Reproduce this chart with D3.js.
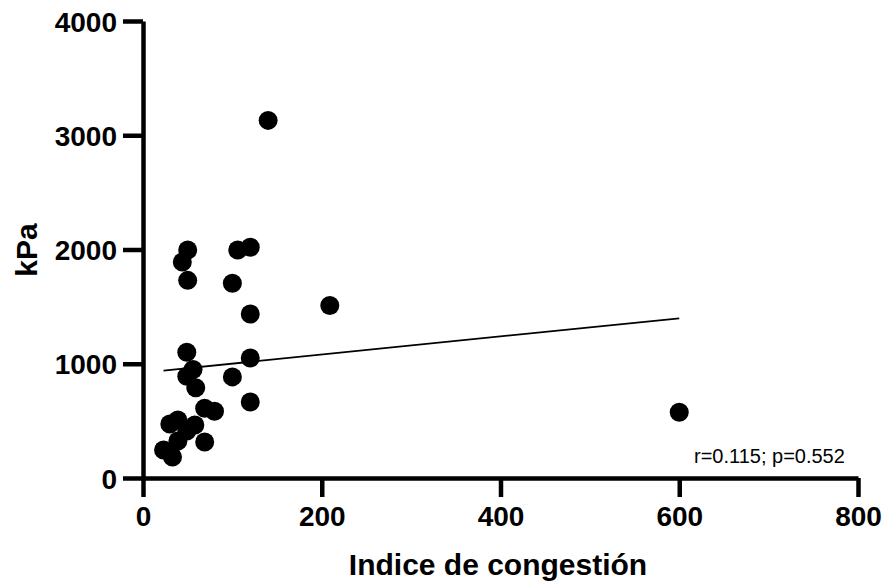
<!DOCTYPE html>
<html>
<head>
<meta charset="utf-8">
<script src="https://cdn.jsdelivr.net/npm/d3@7"></script>
<style>
  body { margin: 0; background: #fff; }
  svg { font-family: "Liberation Sans", Arial, sans-serif; }
</style>
</head>
<body>
<div id="chart"></div>
<script>
(function () {
  "use strict";

  // data
  const congestion = [140, 120, 106, 50, 44, 50, 100, 209, 120, 49, 120, 56, 49, 100, 59,
    120, 69, 80, 600, 30, 39, 58, 49, 39, 69, 23, 33];
  const kpa = [3130, 2020, 1995, 1995, 1890, 1730, 1705, 1510, 1435, 1100, 1050, 950, 890, 885, 790,
    665, 610, 585, 575, 473, 508, 464, 411, 324, 315, 245, 184];
  const fitX = [23, 600];
  const fitY = [940, 1398];
  const xTicks = [0, 200, 400, 600, 800];
  const yTicks = [0, 1000, 2000, 3000, 4000];
  const stats = "r=0.115; p=0.552";

  const width = 886;
  const height = 585;

  const svg = d3
    .select("#chart")
    .append("svg")
    .attr("width", width)
    .attr("height", height);

  const x = d3.scaleLinear().domain([0, 800]).range([143, 858]);
  const y = d3.scaleLinear().domain([0, 4000]).range([478, 21]);

  // y axis
  const yAxis = svg
    .append("g")
    .attr("transform", `translate(${x(0)},0)`)
    .call(
      d3.axisLeft(y).tickValues(yTicks).tickFormat(d3.format("d"))
        .tickSize(20).tickSizeOuter(0).tickPadding(6)
    );

  // x axis
  const xAxis = svg
    .append("g")
    .attr("transform", `translate(0,${y(0)})`)
    .call(
      d3.axisBottom(x).tickValues(xTicks).tickFormat(d3.format("d"))
        .tickSize(19).tickSizeOuter(0).tickPadding(9)
    );

  [yAxis, xAxis].forEach((g) => {
    g.select(".domain").attr("stroke", "#000").attr("stroke-width", 4.5);
    g.selectAll(".tick line").attr("stroke", "#000").attr("stroke-width", 4.5);
    g.selectAll(".tick text")
      .attr("fill", "#000")
      .style("font-size", "28px")
      .style("font-weight", "bold");
  });
  yAxis.selectAll(".tick text").attr("dy", "0.36em");
  xAxis.selectAll(".tick text").attr("dy", "0.71em");

  // regression line
  svg
    .append("line")
    .attr("x1", x(fitX[0]))
    .attr("y1", y(fitY[0]))
    .attr("x2", x(fitX[1]))
    .attr("y2", y(fitY[1]))
    .attr("stroke", "#000")
    .attr("stroke-width", 1.8);

  // points
  svg
    .append("g")
    .selectAll("circle")
    .data(congestion)
    .join("circle")
    .attr("cx", (d) => x(d))
    .attr("cy", (d, i) => y(kpa[i]))
    .attr("r", 9.5)
    .attr("fill", "#000");

  // titles
  svg
    .append("text")
    .attr("x", 498)
    .attr("y", 575)
    .attr("text-anchor", "middle")
    .style("font-size", "30px")
    .style("font-weight", "bold")
    .text("Indice de congestión");

  svg
    .append("text")
    .attr("transform", "translate(37,250) rotate(-90)")
    .attr("text-anchor", "middle")
    .style("font-size", "30px")
    .style("font-weight", "bold")
    .text("kPa");

  svg
    .append("text")
    .attr("x", 694)
    .attr("y", 463)
    .style("font-size", "20px")
    .text(stats);
})();
</script>
</body>
</html>
